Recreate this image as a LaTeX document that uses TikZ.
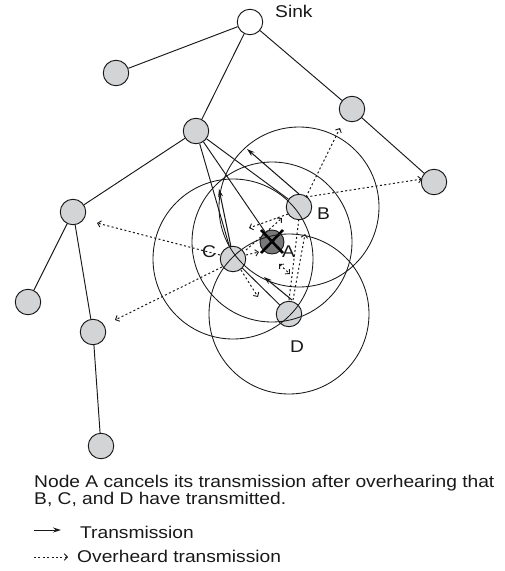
\documentclass[tikz,border=0pt]{standalone}
\usepackage{fontspec}
\usepackage{graphicx}
\setmainfont{Liberation Sans}
\usetikzlibrary{arrows.meta}
\definecolor{nodegray}{RGB}{211,212,214}
\definecolor{darkA}{RGB}{120,120,122}
\definecolor{ink}{RGB}{25,25,25}
\newcommand{\lbl}[1]{\scalebox{1.13}[1]{\fontsize{17}{19}\selectfont #1}}
\begin{document}
\begin{tikzpicture}[x=1pt,y=-1pt,
  nd/.style={circle,draw=ink,line width=0.95pt,fill=nodegray,minimum size=25.5pt,inner sep=0pt},
  sinknd/.style={nd,fill=white},
  anode/.style={nd,fill=darkA,minimum size=24pt},
  treeedge/.style={draw=ink,line width=0.95pt},
  rangecirc/.style={draw=ink,line width=0.85pt},
  tx/.style={draw=ink,line width=1.05pt,-{Stealth[length=8pt,width=5pt]}},
  ovh/.style={draw=ink,line width=1pt,dash pattern=on 2pt off 2.4pt,-{Straight Barb[length=3.2pt,width=6.5pt,line width=0.9pt]}},
  ovhplain/.style={draw=ink,line width=1pt,dash pattern=on 2pt off 2.4pt},
  txt/.style={inner sep=0pt,anchor=base west,text=ink}]
\useasboundingbox (0,0) rectangle (505,571);
% nodes
\node[sinknd] (S) at (250,22) {};
\node[nd] (N1) at (116,73) {};
\node[nd] (N2) at (352,109) {};
\node[nd] (P) at (196,131) {};
\node[nd] (R) at (434,182) {};
\node[nd] (L) at (73,212) {};
\node[nd] (LL) at (28,302) {};
\node[nd] (LM) at (93,332) {};
\node[nd] (BT) at (101,446) {};
\node[nd] (B) at (299,207) {};
\node[anode] (A) at (272,242) {};
\node[nd] (C) at (233,259) {};
\node[nd] (D) at (289,314) {};
% cross on A
\draw[line width=2.6pt,black] (261,230) -- (283,253) (283,230) -- (261,253);
% tree edges
\path[treeedge] (S) -- (N1) (S) -- (P) (S) -- (N2) (N2) -- (R)
  (P) -- (L) (P) -- (C) (P) -- (A) (P) -- (B)
  (L) -- (LL) (L) -- (LM) (LM) -- (BT) (C) -- (D);
% ranges
\draw[rangecirc] (B.center) circle[radius=80];
\draw[rangecirc] (A.center) circle[radius=80];
\draw[rangecirc] (C.center) circle[radius=80];
\draw[rangecirc] (D.center) circle[radius=80];
% transmissions
\coordinate (b1) at (299,194); \coordinate (b2) at (247,149);
\coordinate (c1) at (231,247); \coordinate (c2) at (219,189);
\coordinate (d1) at (292,300); \coordinate (d2) at (264,277);
\draw[tx] (b1) -- (b2);
\draw[tx] (c1) -- (c2);
\draw[tx] (d1) -- (d2);
% overheard
\coordinate (ob) at (306,197);
\coordinate (obn) at (340,128);
\coordinate (obr) at (422,179);
\draw[ovh] (ob) -- (obn);
\draw[ovh] (ob) -- (obr);
\draw[ovh] (288,214) -- (249,228);
\draw[ovh] (246,250) -- (282,218);
\draw[ovh] (246,255) -- (259,252);
\draw[ovh] (220,255) -- (97,223);
\draw[ovh] (222,267) -- (115,320);
\draw[ovh] (241,270) -- (258,297);
\draw[ovh] (293,300) -- (305,234);
\draw[ovhplain] (289,300) -- (299,218);
\draw[ovh,{Straight Barb[length=3.2pt,width=6.5pt,line width=0.9pt]}-{Straight Barb[length=3.2pt,width=6.5pt,line width=0.9pt]}] (279,264) -- (290,274);
% labels
\node[txt] (sinkl) at (275,17) {\lbl{Sink}};
\node[txt] (bl) at (317,219) {\lbl{B}};
\node[txt] (al) at (282,257) {\lbl{A}};
\node[txt] (cl) at (202,257) {\lbl{C}};
\node[txt] (dl) at (290,352) {\lbl{D}};
\node[txt] (t1) at (34,487) {\lbl{Node A cancels its transmission after overhearing that}};
\node[txt] (t2) at (34,504) {\lbl{B, C, and D have transmitted.}};
% legend
\coordinate (l1a) at (34,530); \coordinate (l1b) at (61,530);
\coordinate (l2a) at (34,557); \coordinate (l2b) at (68,557);
\draw[tx,line width=0.9pt] (l1a) -- (l1b);
\draw[ovh] (l2a) -- (l2b);
\node[txt] (lg1) at (80,538) {\lbl{Transmission}};
\node[txt] (lg2) at (77,562) {\lbl{Overheard transmission}};
\end{tikzpicture}
\end{document}
